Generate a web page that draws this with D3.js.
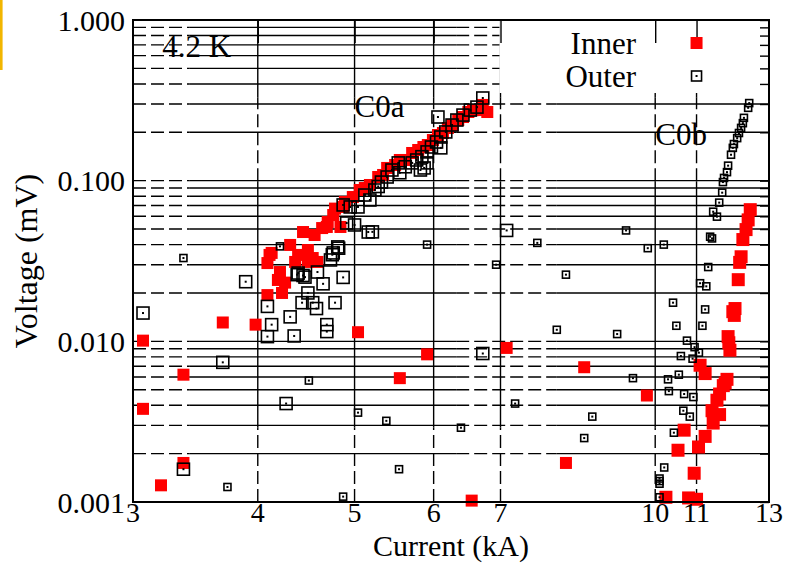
<!DOCTYPE html>
<html>
<head>
<meta charset="utf-8">
<script src="https://cdn.jsdelivr.net/npm/d3@7"></script>
<style>
  body { margin: 0; background: #fff; }
  text { font-family: "Liberation Serif", "Times New Roman", serif; fill: #000; }
</style>
</head>
<body>
<svg id="chart" width="795" height="563"></svg>
<script>
// [current kA, voltage mV]
const innerC0a = [
  [3.07, 0.0101], [3.07, 0.0038], [3.37, 0.0062], [3.37, 0.00175], [3.2, 0.00127],
  [3.69, 0.0131], [3.98, 0.0127], [5.04, 0.0114], [5.91, 0.0083], [5.55, 0.0059],
  [6.55, 0.00102], [7.10, 0.0091], [8.49, 0.0069], [8.14, 0.00175], [9.81, 0.0046],
  [4.09, 0.0307], [4.11, 0.0345], [4.13, 0.0355], [4.19, 0.0241], [4.26, 0.0232],
  [4.23, 0.020], [4.09, 0.0194], [4.21, 0.027], [4.31, 0.0398], [4.39, 0.0345],
  [4.36, 0.0312], [4.44, 0.0479], [4.49, 0.037], [4.49, 0.0312], [4.56, 0.0459],
  [4.59, 0.0312], [4.54, 0.033], [4.64, 0.0507], [4.70, 0.0553], [4.69, 0.0515],
  [4.76, 0.0611], [4.78, 0.067], [4.84, 0.0515], [4.89, 0.0737], [4.87, 0.0686],
  [4.98, 0.0791], [5.06, 0.0875], [5.12, 0.090], [5.18, 0.094], [5.28, 0.1054],
  [5.34, 0.1085], [5.39, 0.12], [5.49, 0.1252], [5.55, 0.1345], [5.62, 0.1345],
  [5.71, 0.1487], [5.79, 0.1552], [5.86, 0.162], [5.92, 0.1667], [5.99, 0.179],
  [6.06, 0.1924], [6.13, 0.198], [6.20, 0.2127], [6.27, 0.222], [6.35, 0.2385],
  [6.42, 0.249], [6.50, 0.2675], [6.57, 0.275], [6.65, 0.275], [6.72, 0.296], [6.79, 0.2675]
]
const innerC0b = [
  [10.25, 0.00107], [10.8, 0.00106], [11.0, 0.00104], [10.94, 0.00151], [10.54, 0.0021],
  [10.69, 0.0028], [11.05, 0.0022], [11.22, 0.00256], [11.4, 0.0037], [11.43, 0.0031],
  [11.53, 0.0043], [11.6, 0.0035], [11.6, 0.0047], [11.7, 0.0053], [11.75, 0.0055],
  [11.8, 0.0058], [11.09, 0.0071], [11.22, 0.0063], [11.83, 0.0107], [11.88, 0.0088],
  [11.85, 0.0098], [11.96, 0.0153], [12.0, 0.0145], [12.02, 0.016], [12.11, 0.0242],
  [12.15, 0.031], [12.19, 0.0336], [12.24, 0.043], [12.33, 0.0496], [12.39, 0.057], [12.45, 0.066]
]
const outerC0a = [
  [3.07, 0.015], [3.89, 0.0235], [3.69, 0.0074], [3.37, 0.0016], [4.27, 0.0041],
  [4.09, 0.0165], [4.13, 0.0127], [4.09, 0.0107], [4.31, 0.0142], [4.35, 0.0108],
  [4.38, 0.026], [4.44, 0.0257], [4.59, 0.027], [4.65, 0.0228], [4.87, 0.025],
  [4.49, 0.020], [4.43, 0.0174], [4.54, 0.0174], [4.58, 0.016], [4.78, 0.0174],
  [4.69, 0.0115], [4.69, 0.0127], [4.75, 0.0346], [4.82, 0.038], [5.21, 0.048],
  [7.10, 0.049], [6.72, 0.0084], [4.87, 0.0706], [4.95, 0.0686], [5.04, 0.0686],
  [4.91, 0.0545], [5.00, 0.053], [5.16, 0.0479], [4.81, 0.0387], [4.76, 0.0355],
  [4.73, 0.0321], [4.39, 0.0266], [4.46, 0.0251], [5.12, 0.0814], [5.18, 0.0758],
  [5.24, 0.0875], [5.28, 0.092], [5.32, 0.098], [5.39, 0.1054], [5.45, 0.1165],
  [5.55, 0.112], [5.53, 0.129], [5.62, 0.122], [5.71, 0.129], [5.77, 0.1345],
  [5.84, 0.141], [5.82, 0.1165], [5.87, 0.120], [5.91, 0.151], [5.91, 0.129],
  [5.97, 0.162], [6.04, 0.174], [6.10, 0.187], [6.10, 0.16], [6.06, 0.249],
  [6.17, 0.201], [6.26, 0.222], [6.33, 0.2385], [6.42, 0.256], [6.53, 0.275],
  [6.63, 0.287], [6.72, 0.327]
]
const outerC0b = [
  [3.37, 0.033], [3.73, 0.00124], [4.21, 0.039], [5.91, 0.040], [6.93, 0.030],
  [4.50, 0.0057], [5.04, 0.0036], [5.38, 0.0032], [6.39, 0.0029], [5.54, 0.0016],
  [4.87, 0.00108], [7.24, 0.0041], [7.62, 0.041], [9.35, 0.049], [9.83, 0.038],
  [10.2, 0.040], [8.14, 0.026], [7.97, 0.0118], [9.16, 0.0111], [10.42, 0.0174],
  [10.5, 0.0125], [11.3, 0.029], [11.09, 0.023], [11.25, 0.022], [11.22, 0.0158],
  [11.15, 0.0125], [10.76, 0.0101], [10.95, 0.0092], [11.06, 0.0085], [10.61, 0.0081],
  [10.9, 0.0078], [10.56, 0.0062], [9.5, 0.0059], [10.3, 0.0058], [10.32, 0.0049],
  [10.69, 0.0047], [10.92, 0.0045], [8.65, 0.0034], [8.49, 0.0025], [10.67, 0.0037],
  [10.83, 0.0034], [10.44, 0.0027], [10.21, 0.00164], [10.1, 0.0014], [10.1, 0.00135],
  [10.1, 0.0013], [10.1, 0.00107],
  [12.42, 0.304], [12.39, 0.284], [12.27, 0.246], [12.24, 0.228], [12.19, 0.213],
  [12.13, 0.198], [12.08, 0.184], [11.99, 0.169], [11.96, 0.160], [11.91, 0.145],
  [11.83, 0.124], [11.80, 0.113], [11.72, 0.104], [11.69, 0.098], [11.67, 0.0842],
  [11.59, 0.073], [11.43, 0.0641], [11.53, 0.0597], [11.35, 0.0448], [11.40, 0.0437]
]
const xTickValues = [3, 4, 5, 6, 7, 10, 11, 13]
const xGridValues = [4, 5, 6, 7, 10, 11]
const yTickValues = [0.001, 0.01, 0.1, 1]
const notes = [
  { text: '4.2 K', at: [3.21, 0.588] },
  { text: 'C0a', at: [5.0, 0.249] },
  { text: 'C0b', at: [10.0, 0.167] }
]

const svg = d3.select('#chart')
const plotL = 133, plotR = 769, plotT = 20, plotB = 502

const x = d3.scaleLog().domain([3, 13]).range([plotL, plotR])
const y = d3.scaleLog().domain([0.001, 1]).range([plotB, plotT])

// the plot has dashed pieces in the grid
const dashX = [[3, 3.42], [6.32, 7.96]]
const dashY = [[0.001, 0.0029], [0.099, 0.33]]

function pieces (lo, hi, dashed) {
  const out = []
  let cur = lo
  dashed.forEach(([a, b]) => {
    if (a > cur) out.push({ a: cur, b: a, dash: false })
    out.push({ a: a, b: b, dash: true })
    cur = b
  })
  if (cur < hi) out.push({ a: cur, b: hi, dash: false })
  return out
}

const grid = svg.append('g').attr('stroke', '#000').attr('stroke-width', 1.4)

const hLines = []
y.ticks().filter(v => v > 0.0011 && v < 0.99).forEach(v => {
  pieces(3, 13, dashX).forEach(p => hLines.push({ v, ...p }))
})
grid.selectAll('line.h')
  .data(hLines)
  .join('line')
    .attr('x1', d => x(d.a))
    .attr('x2', d => x(d.b))
    .attr('y1', d => y(d.v))
    .attr('y2', d => y(d.v))
    .attr('stroke-dasharray', d => d.dash ? '13,5' : null)

const vLines = []
xGridValues.forEach(v => {
  pieces(0.001, 1, dashY).forEach(p => vLines.push({ v, ...p }))
})
grid.selectAll('line.v')
  .data(vLines)
  .join('line')
    .attr('x1', d => x(d.v))
    .attr('x2', d => x(d.v))
    .attr('y1', d => y(d.a))
    .attr('y2', d => y(d.b))
    .attr('stroke-dasharray', d => d.dash ? '13,5' : null)

// legend box hides the grid
svg.append('rect')
  .attr('x', x(7) - 1).attr('y', plotT)
  .attr('width', plotR - x(7) + 1).attr('height', 73)
  .attr('fill', '#fff')

const topAxis = svg.append('g')
  .attr('transform', `translate(0,${plotT})`)
  .call(d3.axisTop(x).tickValues(xGridValues).tickSize(-23).tickFormat(''))
topAxis.select('.domain').remove()
topAxis.selectAll('line').attr('stroke-width', 1.4)

const rightAxis = svg.append('g')
  .attr('transform', `translate(${plotR},0)`)
  .call(d3.axisRight(y).tickValues(y.ticks()).tickSize(-9).tickFormat(''))
rightAxis.select('.domain').remove()
rightAxis.selectAll('line').attr('stroke-width', 1.4)

// markers
function redSquares (data, s) {
  svg.append('g')
    .selectAll('rect')
    .data(data)
    .join('rect')
      .attr('x', d => x(d[0]) - s / 2)
      .attr('y', d => y(d[1]) - s / 2)
      .attr('width', s)
      .attr('height', s)
      .attr('fill', '#ff0000')
}
function openSquares (data, s) {
  const g = svg.append('g')
  g.selectAll('rect.box')
    .data(data)
    .join('rect')
      .attr('class', 'box')
      .attr('x', d => x(d[0]) - s / 2)
      .attr('y', d => y(d[1]) - s / 2)
      .attr('width', s)
      .attr('height', s)
      .attr('fill', 'none')
      .attr('stroke', '#000')
      .attr('stroke-width', 1.6)
  g.selectAll('rect.dot')
    .data(data)
    .join('rect')
      .attr('class', 'dot')
      .attr('x', d => x(d[0]) - 1)
      .attr('y', d => y(d[1]) - 1)
      .attr('width', 2)
      .attr('height', 2)
      .attr('fill', '#000')
}
redSquares(innerC0a, 12)
redSquares(innerC0b, 13)
openSquares(outerC0a, 12)
openSquares(outerC0b, 7)

// frame
svg.append('rect')
  .attr('x', plotL).attr('y', plotT)
  .attr('width', plotR - plotL).attr('height', plotB - plotT)
  .attr('fill', 'none').attr('stroke', '#000').attr('stroke-width', 2)

// tick labels
svg.append('g').selectAll('text')
  .data(yTickValues)
  .join('text')
    .attr('x', 125)
    .attr('y', d => y(d))
    .attr('dy', '0.35em')
    .attr('text-anchor', 'end')
    .attr('font-size', 30)
    .text(d => d3.format('.3f')(d))

svg.append('g').selectAll('text')
  .data(xTickValues)
  .join('text')
    .attr('x', d => x(d))
    .attr('y', 522)
    .attr('text-anchor', 'middle')
    .attr('font-size', 28)
    .text(d => d)

svg.append('text')
  .attr('x', (plotL + plotR) / 2).attr('y', 556)
  .attr('text-anchor', 'middle').attr('font-size', 30)
  .text('Current (kA)')

svg.append('text')
  .attr('transform', `translate(37,${(plotT + plotB) / 2}) rotate(-90)`)
  .attr('text-anchor', 'middle').attr('font-size', 32)
  .text('Voltage (mV)')

svg.append('g').selectAll('text')
  .data(notes)
  .join('text')
    .attr('x', d => x(d.at[0]))
    .attr('y', d => y(d.at[1]))
    .attr('font-size', 31)
    .text(d => d.text)

// legend
const legend = [
  { name: 'Inner', y: 43 },
  { name: 'Outer', y: 76 }
]
legend.forEach(l => {
  svg.append('text')
    .attr('x', 636).attr('y', l.y + 11)
    .attr('text-anchor', 'end').attr('font-size', 31)
    .text(l.name)
})
svg.append('rect').attr('x', x(11) - 6).attr('y', 37).attr('width', 12).attr('height', 12).attr('fill', '#ff0000')
svg.append('rect').attr('x', x(11) - 5).attr('y', 71).attr('width', 10).attr('height', 10)
  .attr('fill', 'none').attr('stroke', '#000').attr('stroke-width', 1.6)
svg.append('rect').attr('x', x(11) - 1).attr('y', 75).attr('width', 2).attr('height', 2).attr('fill', '#000')

// slide corner
svg.append('line')
  .attr('x1', 1.3).attr('x2', 1.3).attr('y1', 0).attr('y2', 70)
  .attr('stroke', '#f2b600').attr('stroke-width', 2.6)
</script>
</body>
</html>
